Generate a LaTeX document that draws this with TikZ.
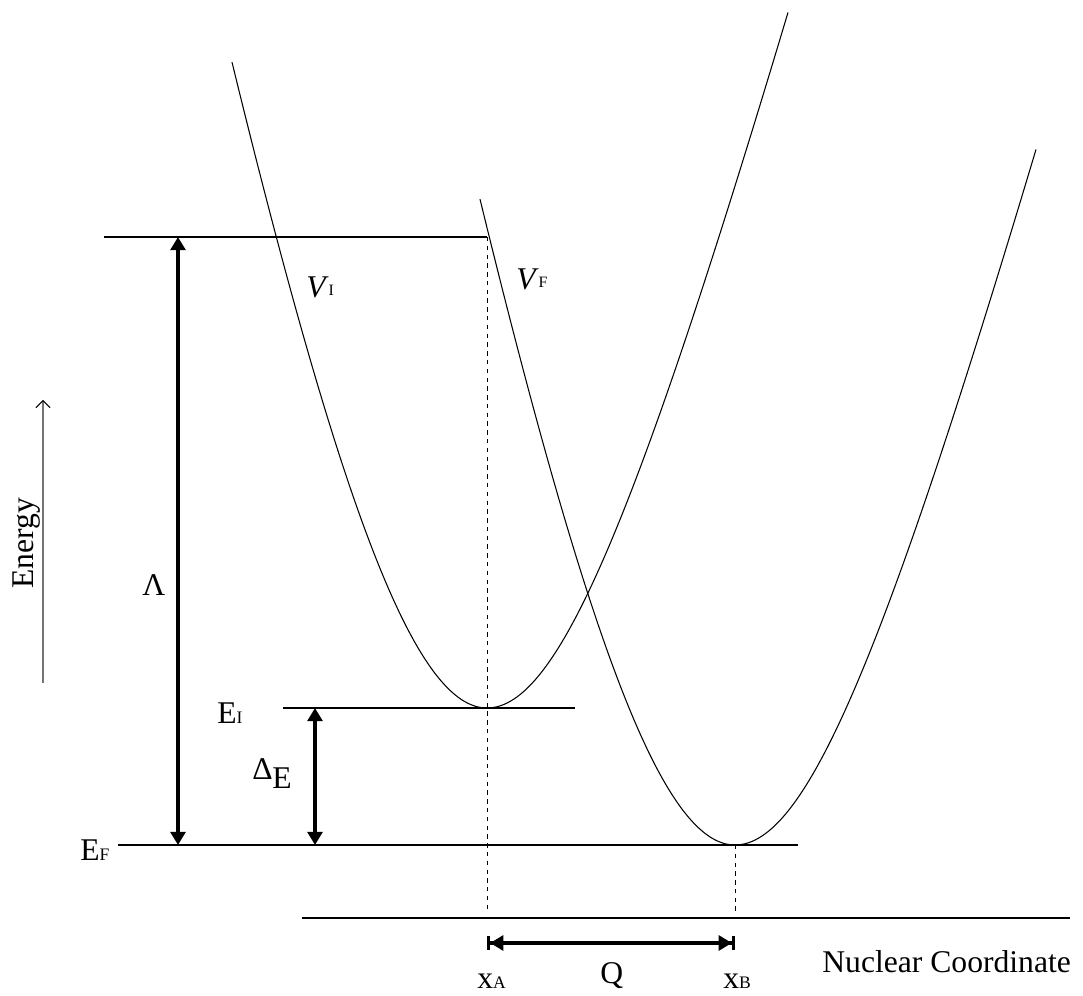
\documentclass[tikz,border=0pt]{standalone}
\usepackage{fontspec}
\setmainfont{Liberation Serif}
\usetikzlibrary{arrows.meta}
\begin{document}
\begin{tikzpicture}[x=0.02cm,y=-0.02cm,
  thinline/.style={line width=0.6pt},
  curve/.style={line width=0.6pt},
  guide/.style={line width=0.5pt, dash pattern=on 2.5pt off 2.5pt},
  thickarrow/.style={line width=1.8pt, {Triangle[length=7.5pt,width=8.5pt]}-{Triangle[length=7.5pt,width=8.5pt]}},
  qarrow/.style={line width=1.8pt, {Bar[width=8pt]Triangle[length=7.5pt,width=8.5pt]}-{Triangle[length=7.5pt,width=8.5pt]Bar[width=8pt]}},
  lbl/.style={inner sep=0pt, anchor=base west, font=\fontsize{18}{20}\selectfont}]
\useasboundingbox (0,0) rectangle (1083,996);
\newcommand{\subsz}{\fontsize{10}{11}\selectfont}
\newcommand{\vsubsz}{\fontsize{9}{10}\selectfont}

% coordinates
\coordinate (topL) at (104,237); \coordinate (topR) at (487,237);
\coordinate (eiL) at (283,708);  \coordinate (eiR) at (575,708);
\coordinate (efL) at (118,845);  \coordinate (efR) at (798,845);
\coordinate (axL) at (302,918);  \coordinate (axR) at (1070,918);
\coordinate (dA) at (487,912);   \coordinate (dB) at (735,912);
\coordinate (minF) at (735,845);
\coordinate (lamT) at (178,237); \coordinate (lamB) at (178,845);
\coordinate (deT) at (315,708);  \coordinate (deB) at (315,845);
\coordinate (qL) at (487,943);   \coordinate (qR) at (735,943);
\coordinate (enB) at (43,683);   \coordinate (enT) at (43,400);

% horizontal lines
\draw[thinline] (topL) -- (topR);
\draw[thinline] (eiL) -- (eiR);
\draw[thinline] (efL) -- (efR);
\draw[thinline] (axL) -- (axR);

% dashed guides
\draw[guide] (topR) -- (dA);
\draw[guide] (minF) -- (dB);

% potential curves (V_I, and V_F as the same curve shifted)
\foreach \sx/\sy in {0/0, 248/137}{
  \begin{scope}[shift={(\sx,\sy)}]
  \draw[curve] plot[domain=-255:0, samples=90, smooth] ({487+\x}, {708-1041*(sqrt(1+(\x/200)^2)-1)})
    -- plot[domain=0:301, samples=90, smooth] ({487+\x}, {708-560*(sqrt(1+(\x/150)^2)-1)});
  \end{scope}
}

% arrows
\draw[thickarrow] (lamB) -- (lamT);
\draw[thickarrow] (deB) -- (deT);
\draw[qarrow] (qL) -- (qR);
\draw[line width=0.6pt, draw=black!55, -{Straight Barb[length=4pt,width=8pt,color=black]}] (enB) -- (enT);

% labels
\node[lbl] (vi) at (306,298) {\textit{V}\raisebox{1.5pt}{\vsubsz I}};
\node[lbl] (vf) at (516,290) {\textit{V}\raisebox{1.5pt}{\vsubsz F}};
\node[lbl] (ei) at (217,724) {E\subsz I};
\node[lbl] (ef) at (80,861) {E\subsz F};
\node[lbl] (lam) at (142,596) {Λ};
\node[lbl] (dlt) at (252,780) {\fontsize{18}{20}\selectfont Δ};
\node[lbl] (dle) at (272,789) {E};
\node[lbl] (xa) at (477,989) {x\subsz A};
\node[lbl] (xb) at (723,989) {x\subsz B};
\node[lbl] (q) at (600,984) {Q};
\node[lbl] (nc) at (822,972) {Nuclear Coordinate};
\node[inner sep=0pt, anchor=base, rotate=90, font=\fontsize{18}{20}\selectfont] (en) at (33,543) {Energy};
\end{tikzpicture}
\end{document}
